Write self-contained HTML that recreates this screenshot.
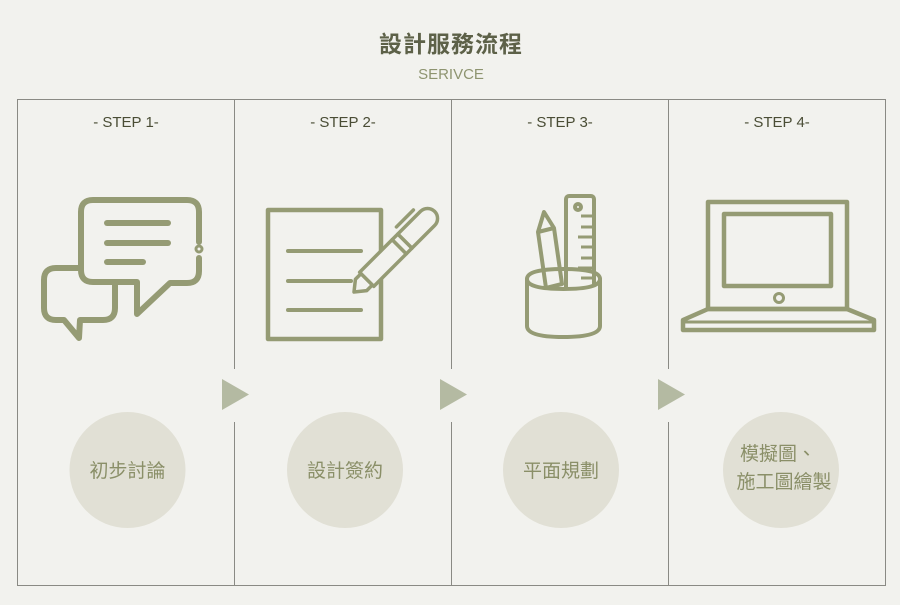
<!DOCTYPE html>
<html><head><meta charset="utf-8"><style>
html,body{margin:0;padding:0;background:#f2f2ee;}
svg{display:block}
text{font-family:"Liberation Sans","Noto Sans CJK TC",sans-serif;}
</style></head><body>
<svg width="900" height="605" viewBox="0 0 900 605" xmlns="http://www.w3.org/2000/svg">
<rect width="900" height="605" fill="#f2f2ee"/>
<text x="451" y="52" text-anchor="middle" font-size="23" font-weight="bold" fill="#5d6148" letter-spacing="1">設計服務流程</text>
<text x="451" y="79" text-anchor="middle" font-size="15" fill="#8e9470">SERIVCE</text>
<!-- frame -->
<rect x="17.5" y="99.5" width="868" height="486" fill="none" stroke="#8a8a84" stroke-width="1"/>
<g stroke="#8a8a84" stroke-width="1">
<line x1="234.5" y1="100" x2="234.5" y2="369"/><line x1="234.5" y1="422" x2="234.5" y2="585"/>
<line x1="451.5" y1="100" x2="451.5" y2="369"/><line x1="451.5" y1="422" x2="451.5" y2="585"/>
<line x1="668.5" y1="100" x2="668.5" y2="369"/><line x1="668.5" y1="422" x2="668.5" y2="585"/>
</g>
<g fill="#b4baa2">
<polygon points="222,379 249,394.5 222,410"/>
<polygon points="440,379 467,394.5 440,410"/>
<polygon points="658,379 685,394.5 658,410"/>
</g>
<g font-size="15" fill="#4a4d35" text-anchor="middle">
<text x="126" y="127">- STEP 1-</text>
<text x="343" y="127">- STEP 2-</text>
<text x="560" y="127">- STEP 3-</text>
<text x="777" y="127">- STEP 4-</text>
</g>
<!-- circles -->
<g fill="#e1e0d5">
<circle cx="127.5" cy="470" r="58"/>
<circle cx="345" cy="470" r="58"/>
<circle cx="561" cy="470" r="58"/>
<circle cx="781" cy="470" r="58"/>
</g>
<g font-size="19" fill="#8a8f68" text-anchor="middle">
<text x="127.5" y="477">初步討論</text>
<text x="345" y="477">設計簽約</text>
<text x="561" y="477">平面規劃</text>
<text x="778" y="460">模擬圖、</text>
<text x="784" y="488">施工圖繪製</text>
</g>
<!-- icon 1 chat -->
<g fill="none" stroke="#959b74" stroke-width="6" stroke-linecap="round" stroke-linejoin="round">
<path d="M199,242 V212 Q199,200 187,200 H93 Q81,200 81,212 V270 Q81,282 93,282 H137 V314 L170,283 H187 Q199,283 199,271 V258"/>
<circle cx="199" cy="249" r="1.5"/>
<path d="M81,268 H56 Q44,268 44,280 V308 Q44,320 56,320 H64 L79,338 L80,320 H103 Q115,320 115,308 V285"/>
<line x1="107" y1="223" x2="168" y2="223"/>
<line x1="107" y1="243" x2="168" y2="243"/>
<line x1="107" y1="262" x2="143" y2="262"/>
</g>
<!-- icon 2 document+pen -->
<g fill="none" stroke="#959b74" stroke-linecap="round" stroke-linejoin="round">
<rect x="268" y="210" width="113" height="129" stroke-width="4.5"/>
<g stroke-width="4"><line x1="288" y1="251" x2="361" y2="251"/><line x1="288" y1="281" x2="351" y2="281"/><line x1="288" y1="310" x2="361" y2="310"/></g>
<g transform="translate(354,292) rotate(-45)" stroke-width="3.5" fill="#f2f2ee">
<path d="M0,0 L10,-8 H18 V8 H10 Z"/>
<rect x="18" y="-10" width="46" height="20"/>
<rect x="64" y="-10" width="8" height="20"/>
<path d="M72,-10 H104 A10,10 0 0 1 104,10 H72 Z"/>
<line x1="76" y1="-16" x2="100" y2="-16"/>
</g>
</g>
<!-- icon 3 cup -->
<g fill="none" stroke="#959b74" stroke-width="4" stroke-linejoin="round">
<rect x="566" y="196" width="28" height="96" rx="3" fill="#f2f2ee"/>
<circle cx="578" cy="207" r="3"/>
<g stroke-width="3"><line x1="581" y1="216" x2="592" y2="216"/><line x1="581" y1="227" x2="592" y2="227"/><line x1="578" y1="237" x2="592" y2="237"/><line x1="581" y1="247" x2="592" y2="247"/><line x1="581" y1="258" x2="592" y2="258"/><line x1="578" y1="268" x2="592" y2="268"/><line x1="581" y1="278" x2="592" y2="278"/></g>
<path d="M538,232 L544,212 L554,228 L562,284 L546,288 Z" fill="#f2f2ee"/>
<line x1="554" y1="228" x2="538" y2="232"/>
<path d="M527,279 V326 Q527,337 563,337 Q600,337 600,326 V279 Q600,289 563.5,289 Q527,289 527,279 Z" fill="#f2f2ee"/>
<path d="M527,279 Q527,269 563.5,269 Q600,269 600,279"/>
</g>
<!-- icon 4 laptop -->
<g fill="none" stroke="#959b74" stroke-width="4.5" stroke-linejoin="round">
<rect x="708" y="202" width="139" height="107"/>
<rect x="724" y="214" width="107" height="72"/>
<circle cx="779" cy="298" r="4.5" stroke-width="3"/>
<path d="M708,309 L683,320 V330 H874 V320 L847,309 Z"/>
<line x1="683" y1="322" x2="874" y2="322" stroke-width="3"/>
</g>
</svg>
</body></html>
